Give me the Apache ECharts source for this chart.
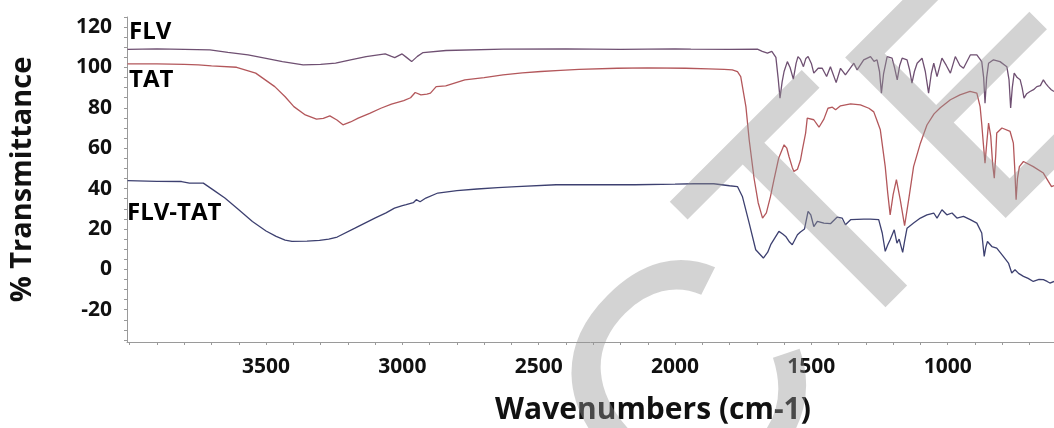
<!DOCTYPE html>
<html>
<head>
<meta charset="utf-8">
<script src="https://cdn.jsdelivr.net/npm/echarts@6/dist/echarts.min.js"></script>
<style>
html,body{margin:0;padding:0;background:#fff;}
#chart{width:1054px;height:428px;}
</style>
</head>
<body>
<div id="chart"></div>
<script>
// [wavenumber (cm-1), % transmittance]
const flv = [[4008,109],[3900,109.2],[3800,109],[3706,108.7],[3640,107.5],[3566,106.2],[3500,104.5],[3440,102.9],[3364,101.3],[3300,101.5],[3245,102.1],[3190,103.8],[3133,105.4],[3063,106.7],[3040,105.5],[3028,104.9],[3012,106],[3001,106.7],[2985,105],[2966,102.9],[2945,105.5],[2924,107.4],[2840,108.4],[2630,109.1],[2400,109.2],[2200,109],[2000,109.2],[1942,109.1],[1800,109],[1698,109.1],[1680,108],[1661,107.1],[1645,108],[1630,105],[1622,95],[1615,84.8],[1607,93],[1600,98],[1588,102.9],[1578,100],[1566,94.2],[1556,102],[1549,105.4],[1540,104],[1529,100.4],[1520,104.5],[1512,105.4],[1500,102],[1491,97.2],[1475,99.6],[1460,99.6],[1444,95.5],[1430,100.4],[1409,92.5],[1393,99.6],[1375,96.3],[1344,102.1],[1332,98.8],[1308,103.8],[1283,105.4],[1270,103],[1259,103.8],[1250,98],[1243,87.3],[1235,97],[1222,105.4],[1204,104.6],[1195,100],[1185,93.9],[1176,101],[1167,104.6],[1149,103.8],[1140,99],[1131,92.2],[1122,98],[1112,102.1],[1094,104.6],[1082,98],[1070,87.3],[1060,97],[1051,102.1],[1039,95.5],[1021,104.6],[1005,101],[990,97.2],[972,105.4],[955,101],[942,99.6],[917,106.2],[893,106.2],[875,102.9],[868,95],[863,82.3],[857,95],[850,102.1],[832,103.8],[808,102.9],[783,100.4],[775,94],[769,79.9],[763,90],[756,97.2],[745,95],[734,93.9],[727,90],[720,84.8],[710,87],[698,88.1],[685,89],[673,90.5],[660,91],[649,93.9],[640,92],[631,90.5],[620,89],[610,88.1]];

const tat = [[4008,101.8],[3900,101.8],[3800,101.5],[3748,101.3],[3700,100.8],[3608,100.1],[3538,97.2],[3468,90.5],[3430,85.5],[3398,80.6],[3356,76.5],[3315,74.4],[3290,74.8],[3266,76],[3240,74],[3218,71.6],[3190,73],[3162,74.9],[3120,77.3],[3079,79.8],[3040,81.8],[2995,83.6],[2970,85],[2953,87.6],[2932,86.4],[2910,86.8],[2897,87.3],[2876,90.5],[2841,90.9],[2771,93.9],[2700,95],[2631,96.3],[2560,97.3],[2492,98],[2420,98.6],[2352,99.1],[2212,99.6],[2100,99.8],[1961,99.6],[1877,99.3],[1820,99.1],[1790,98.8],[1771,97.9],[1759,95.5],[1740,80.6],[1728,64.2],[1710,45],[1695,33],[1679,25.4],[1665,28],[1650,36],[1637,44.4],[1620,55],[1600,61.7],[1590,60],[1582,55.9],[1570,50.5],[1564,48.5],[1551,49.6],[1540,54],[1533,59.2],[1521,67.5],[1515,74.9],[1509,75.4],[1491,74.1],[1472,70.4],[1454,74.4],[1439,79.8],[1423,80.3],[1411,79],[1393,81],[1356,82],[1320,81.5],[1289,79.8],[1271,78],[1260,74],[1247,69.1],[1229,50.9],[1220,38],[1211,27],[1200,37],[1188,44.4],[1174,34.5],[1158,21.6],[1143,34.5],[1125,50.9],[1100,62.5],[1076,71.5],[1050,77],[1027,80],[990,84],[955,86.4],[918,88.1],[893,87.3],[881,80.6],[875,72],[869,62],[863,52.6],[857,62],[850,72.4],[842,66],[835,52],[829,45.2],[824,56],[820,67.5],[801,70],[771,68.3],[759,62.5],[754,50],[749,34.5],[744,45],[737,50.9],[722,53.4],[686,50.9],[649,47.7],[619,41],[610,41.5]];

const flvTat = [[4008,43.9],[3900,43.6],[3810,43.5],[3781,42.7],[3730,42.7],[3690,39],[3651,35.3],[3600,29.5],[3550,23.7],[3500,19],[3463,16.3],[3430,14.5],[3405,13.8],[3350,14],[3304,14.3],[3270,15],[3239,16],[3174,20.4],[3101,25.4],[3060,28],[3029,30.3],[3000,31.5],[2986,32],[2960,33],[2949,34.5],[2935,33.5],[2914,35.3],[2870,37.8],[2800,39],[2726,39.8],[2650,40.5],[2581,41],[2436,41.9],[2300,42],[2147,41.9],[2000,42.2],[1930,42.4],[1858,42.4],[1800,41.4],[1771,41],[1753,36.1],[1728,22.9],[1704,9.7],[1676,5.6],[1660,8.5],[1649,12.2],[1619,18.8],[1605,17.5],[1594,16.3],[1580,13.5],[1570,12.2],[1551,17.1],[1540,18.5],[1533,18.8],[1525,20],[1512,28.7],[1502,27],[1491,21.2],[1478,23.7],[1454,22.9],[1430,22.6],[1405,25.9],[1387,25.4],[1375,22.1],[1356,24.6],[1308,24.9],[1284,24.9],[1253,24.6],[1240,18],[1229,8.9],[1220,12],[1211,14.7],[1196,19.6],[1186,13],[1178,15],[1165,8.4],[1158,14],[1149,20.4],[1125,22.9],[1100,25.4],[1076,27],[1051,27.9],[1039,25.4],[1021,29.5],[1003,27],[984,27.9],[966,25.4],[942,26.2],[917,24.6],[893,22.9],[875,18],[866,6.4],[860,11],[854,13.8],[838,11.3],[820,10.5],[796,6.4],[777,3.1],[765,-1.8],[753,-0.2],[740,-2],[722,-3.5],[705,-4.5],[686,-6],[665,-5],[649,-5.1],[635,-6],[625,-6.8],[610,-6]];

const xLabels = [3500, 3000, 2500, 2000, 1500, 1000];
const yLabels = [-20, 0, 20, 40, 60, 80, 100, 120];
const seriesNames = ['FLV', 'TAT', 'FLV-TAT'];

const xTicks = [];
for (let v = 700; v <= 4000; v += 100) xTicks.push(v);
const yTicks = [];
for (let v = -35; v <= 125; v += 5) yTicks.push(v);

const chart = echarts.init(document.getElementById('chart'), null, {renderer: 'canvas'});
const FONT = '"Open Sans", "Liberation Sans", sans-serif';
const axisGray = '#9a9a9a';
const wmFont = '330px "Liberation Sans", sans-serif';
const wmFill = 'rgba(150,150,150,0.42)';

function lineSeries(name, data, color) {
  return {
    name: name, type: 'line', data: data, showSymbol: false, symbol: 'none',
    smooth: false, lineStyle: {color: color, width: 1.3}, silent: true, animation: false
  };
}

chart.setOption({
  animation: false,
  backgroundColor: '#ffffff',
  grid: {left: 125, right: 0, top: 17, bottom: 86, containLabel: false},
  xAxis: {
    type: 'value', inverse: true, min: 610, max: 4010,
    axisLine: {show: true, onZero: false, lineStyle: {color: axisGray, width: 1}},
    axisTick: {show: true, length: 3, lineStyle: {color: axisGray}, customValues: xTicks},
    axisLabel: {customValues: xLabels, formatter: v => String(v), color: '#111', fontFamily: FONT, fontWeight: 'bold', fontSize: 21, margin: 15},
    splitLine: {show: false}
  },
  yAxis: {
    type: 'value', min: -36, max: 125,
    name: '% Transmittance', nameLocation: 'middle', nameGap: 90,
    nameTextStyle: {color: '#111', fontFamily: FONT, fontWeight: 'bold', fontSize: 29},
    axisLine: {show: true, onZero: false, lineStyle: {color: axisGray, width: 1}},
    axisTick: {show: true, length: 3, lineStyle: {color: axisGray}, customValues: yTicks},
    axisLabel: {customValues: yLabels, color: '#111', fontFamily: FONT, fontWeight: 'bold', fontSize: 21, margin: 15},
    splitLine: {show: false}
  },
  series: [
    lineSeries(seriesNames[0], flv, '#6f5072'),
    lineSeries(seriesNames[1], tat, '#b3575b'),
    lineSeries(seriesNames[2], flvTat, '#3d4070')
  ],
  graphic: [
    {type: 'text', left: 129, top: 20, style: {text: seriesNames[0], font: 'bold 24px ' + FONT, fill: '#000'}},
    {type: 'text', left: 129, top: 68, style: {text: seriesNames[1], font: 'bold 24px ' + FONT, fill: '#000'}},
    {type: 'text', left: 127, top: 201, style: {text: seriesNames[2], font: 'bold 24px ' + FONT, fill: '#000'}},
    {type: 'text', x: 653, y: 410, style: {text: 'Wavenumbers (cm-1)', font: 'bold 30px ' + FONT, fill: '#111', align: 'center', verticalAlign: 'middle'}},
    {type: 'text', x: 700, y: 400, rotation: Math.PI / 4, z: 50, silent: true,
      style: {text: 'C', font: wmFont, fill: wmFill, align: 'center', verticalAlign: 'middle'}},
    {type: 'text', x: 832, y: 232, rotation: Math.PI / 4, z: 50, silent: true,
      style: {text: 'T', font: wmFont, fill: wmFill, align: 'center', verticalAlign: 'middle'}},
    {type: 'text', x: 1000, y: 95, rotation: Math.PI / 4, z: 50, silent: true,
      style: {text: 'E', font: wmFont, fill: wmFill, align: 'center', verticalAlign: 'middle'}}
  ]
});
</script>
</body>
</html>
